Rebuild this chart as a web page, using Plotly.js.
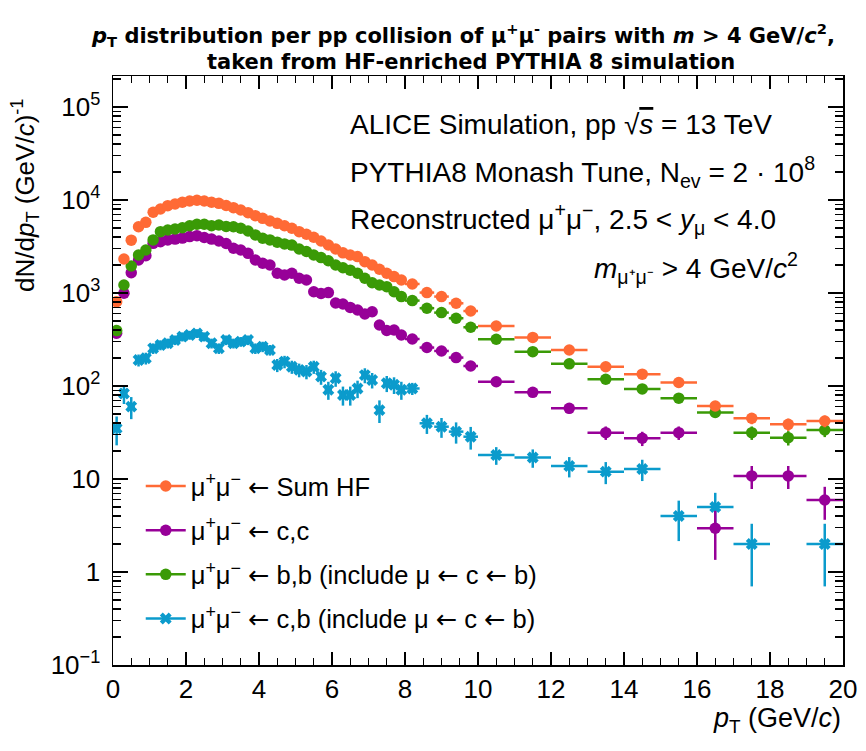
<!DOCTYPE html>
<html>
<head>
<meta charset="utf-8">
<script src="https://cdn.plot.ly/plotly-3.0.1.min.js"></script>
<style>
  html, body { margin: 0; padding: 0; background: #fff; }
  #plot { width: 866px; height: 751px; }
</style>
</head>
<body>
<div id="plot"></div>
<script>
// Bin centres (GeV/c): 0.2 GeV bins up to 8, 0.4 GeV bins up to 10, 1 GeV bins up to 20
const ptCenters = [
  0.1, 0.3, 0.5, 0.7, 0.9, 1.1, 1.3, 1.5, 1.7, 1.9,
  2.1, 2.3, 2.5, 2.7, 2.9, 3.1, 3.3, 3.5, 3.7, 3.9,
  4.1, 4.3, 4.5, 4.7, 4.9, 5.1, 5.3, 5.5, 5.7, 5.9,
  6.1, 6.3, 6.5, 6.7, 6.9, 7.1, 7.3, 7.5, 7.7, 7.9,
  8.2, 8.6, 9.0, 9.4, 9.8,
  10.5, 11.5, 12.5, 13.5, 14.5, 15.5, 16.5, 17.5, 18.5, 19.5
];
const ptHalfWidth = [
  0.1, 0.1, 0.1, 0.1, 0.1, 0.1, 0.1, 0.1, 0.1, 0.1,
  0.1, 0.1, 0.1, 0.1, 0.1, 0.1, 0.1, 0.1, 0.1, 0.1,
  0.1, 0.1, 0.1, 0.1, 0.1, 0.1, 0.1, 0.1, 0.1, 0.1,
  0.1, 0.1, 0.1, 0.1, 0.1, 0.1, 0.1, 0.1, 0.1, 0.1,
  0.2, 0.2, 0.2, 0.2, 0.2,
  0.5, 0.5, 0.5, 0.5, 0.5, 0.5, 0.5, 0.5, 0.5, 0.5
];

// dN/dpT per pp collision
const sumHF = [
  805, 2320, 3700, 5160, 5750, 7380, 8000, 8690, 9060, 9440,
  9750, 9920, 9750, 9440, 9200, 8720, 8270, 7800, 7300, 6780,
  6350, 5940, 5610, 5290, 4960, 4560, 4280, 3970, 3620, 3280,
  2970, 2700, 2560, 2460, 2170, 2000, 1800, 1630, 1500, 1380,
  1250, 1010, 915, 775, 640,
  442, 333, 244, 161, 134, 109, 61, 45, 38.7, 42
];
const sumHFErr = [
  59, 100, 126, 149, 157, 178, 185, 193, 197, 201,
  204, 206, 204, 201, 199, 193, 188, 183, 177, 170,
  165, 160, 155, 151, 146, 140, 135, 130, 125, 119,
  113, 108, 105, 103, 96, 93, 88, 84, 80, 77,
  52, 47, 44, 41, 37,
  19, 17, 14, 12, 11, 9.7, 7.2, 6.2, 5.8, 6.0
];

const ccbar = [
  369, 993, 1650, 2260, 2520, 3420, 3560, 3720, 3800, 3890,
  4040, 4130, 3950, 3800, 3620, 3400, 3030, 2900, 2670, 2260,
  2090, 2000, 1630, 1560, 1630, 1440, 1380, 1030, 990, 1010,
  780, 762, 699, 657, 594, 629, 453, 395, 400, 353,
  320, 259, 238, 202, 164,
  111, 85.5, 57.5, 31.5, 27.4, 31.5, 2.95, 10.8, 10.8, 5.94
];
const ccbarErr = [
  40, 65, 84, 98, 104, 121, 124, 126, 128, 129,
  132, 133, 130, 128, 125, 121, 114, 111, 107, 98,
  95, 93, 84, 82, 84, 79, 77, 66, 65, 66,
  58, 57, 55, 53, 50, 52, 44, 41, 41, 39,
  26, 24, 23, 21, 19,
  9.8, 8.6, 7.0, 5.2, 4.8, 5.2, 1.6, 3.0, 3.0, 2.3
];

const bbbar = [
  394, 1220, 1950, 2560, 2900, 3720, 4560, 4750, 4870, 5030,
  5290, 5480, 5480, 5290, 5380, 5200, 5160, 4960, 4640, 4210,
  3880, 3720, 3520, 3370, 3270, 2970, 2790, 2560, 2400, 2220,
  2000, 1870, 1760, 1630, 1440, 1290, 1220, 1170, 1030, 915,
  828, 686, 615, 535, 428,
  318, 234, 173, 118, 93, 74, 52, 31.5, 27.8, 33.6
];
const bbbarErr = [
  41, 72, 91, 105, 111, 126, 140, 143, 144, 147,
  151, 153, 153, 151, 152, 149, 149, 146, 141, 134,
  129, 126, 123, 120, 118, 113, 109, 105, 101, 98,
  93, 90, 87, 84, 79, 74, 72, 71, 66, 63,
  42, 38, 36, 34, 30,
  17, 14, 12, 10, 8.9, 8.0, 6.7, 5.2, 4.9, 5.4
];

const cbMixed = [
  35, 83, 60, 190, 199, 254, 276, 288, 312, 339,
  353, 368, 339, 288, 254, 312, 288, 300, 312, 254,
  265, 244, 168, 183, 161, 149, 143, 161, 126, 91,
  121, 80, 80, 94, 131, 116, 55, 107, 103, 91,
  94, 39.7, 36.5, 32.3, 28.5,
  18.1, 17, 13.8, 12, 12.8, 4, 5, 2, null, 2
];
const cbMixedErr = [
  12, 19, 16, 28, 29, 33, 34, 35, 37, 38,
  39, 40, 38, 35, 33, 37, 35, 36, 37, 33,
  34, 32, 27, 28, 26, 25, 25, 26, 23, 20,
  23, 18.5, 18.5, 20, 24, 22, 15, 21, 21, 20,
  14, 9.2, 8.8, 8.3, 7.8,
  3.9, 3.8, 3.4, 3.2, 3.3, 1.85, 2.1, 1.3, 0, 1.3
];

const ARROW = '<span style="font-family:DejaVu Sans">←</span>';
const MUMU = 'μ<sup>+</sup>μ<sup>−</sup>';
const seriesNames = [
  MUMU + ' ' + ARROW + ' Sum HF',
  MUMU + ' ' + ARROW + ' c,c',
  MUMU + ' ' + ARROW + ' b,b (include μ ' + ARROW + ' c ' + ARROW + ' b)',
  MUMU + ' ' + ARROW + ' c,b (include μ ' + ARROW + ' c ' + ARROW + ' b)'
];
const seriesColors = ['#ff6a35', '#970098', '#3a9a06', '#0b9bcc'];
const seriesSymbols = ['circle', 'circle', 'circle', 'x'];
const seriesValues = [sumHF, ccbar, bbbar, cbMixed];
const seriesErrors = [sumHFErr, ccbarErr, bbbarErr, cbMixedErr];

// y-axis tick labels
const yTickVals = [0.1, 1, 10, 100, 1000, 10000, 100000];
const yTickText = ['10<sup>−1</sup>', '1', '10', '10<sup>2</sup>', '10<sup>3</sup>', '10<sup>4</sup>', '10<sup>5</sup>'];
const yMinorVals = [];
for (let e = -1; e <= 5; e++) {
  for (let m = 2; m <= 9; m++) yMinorVals.push(m * Math.pow(10, e));
}

function markerFor(i) {
  return {
    color: seriesColors[i],
    symbol: seriesSymbols[i],
    size: seriesSymbols[i] === 'x' ? 10.5 : 11.5,
    line: { width: 0 }
  };
}

const traces = [];
// draw order: cyan first so the circles sit on top
[3, 1, 2, 0].forEach(function (i) {
  traces.push({
    type: 'scatter',
    mode: 'markers',
    x: ptCenters,
    y: seriesValues[i],
    showlegend: false,
    marker: markerFor(i),
    error_x: { type: 'data', array: ptHalfWidth, color: seriesColors[i], thickness: 2.5, width: 0 },
    error_y: { type: 'data', array: seriesErrors[i], color: seriesColors[i], thickness: 2.5, width: 0 },
    hoverinfo: 'x+y'
  });
});
// legend keys (line + marker)
[0, 1, 2, 3].forEach(function (i) {
  traces.push({
    type: 'scatter',
    mode: 'lines+markers',
    x: [null],
    y: [null],
    name: seriesNames[i],
    legendgroup: 'g' + i,
    line: { color: seriesColors[i], width: 2.5 },
    marker: markerFor(i)
  });
});

const HELV = 'Liberation Sans, Arial, sans-serif';
const textFont = { family: HELV, size: 28, color: '#000' };
const titleFont = { family: 'DejaVu Sans, sans-serif', size: 21, color: '#000', weight: 600 };

const layout = {
  width: 866,
  height: 751,
  margin: { l: 113, r: 23, t: 76, b: 86 },
  paper_bgcolor: '#fff',
  plot_bgcolor: '#fff',
  font: { family: HELV, size: 24, color: '#000' },
  xaxis: {
    range: [0, 20],
    dtick: 2,
    tick0: 0,
    ticks: 'inside',
    ticklen: 13,
    tickwidth: 1.2,
    tickcolor: '#000',
    showgrid: false,
    zeroline: false,
    showline: true,
    linecolor: '#000',
    linewidth: 1.5,
    mirror: 'allticks',
    tickfont: { family: HELV, size: 26, color: '#000' },
    minor: { dtick: 0.5, tick0: 0, ticks: 'inside', ticklen: 7, tickwidth: 1.2, tickcolor: '#000', showgrid: false }
  },
  yaxis: {
    type: 'log',
    range: [-1, 5.333],
    tickvals: yTickVals,
    ticktext: yTickText,
    ticks: 'inside',
    ticklen: 15,
    tickwidth: 1.2,
    tickcolor: '#000',
    showgrid: false,
    zeroline: false,
    showline: true,
    linecolor: '#000',
    linewidth: 1.5,
    mirror: 'allticks',
    ticklabelstandoff: 6,
    tickfont: { family: HELV, size: 26, color: '#000' },
    minor: { tickvals: yMinorVals, ticks: 'inside', ticklen: 8, tickwidth: 1.2, tickcolor: '#000', showgrid: false }
  },
  showlegend: true,
  legend: {
    x: 0.038,
    y: 0.343,
    xanchor: 'left',
    yanchor: 'top',
    bgcolor: 'rgba(0,0,0,0)',
    borderwidth: 0,
    font: { family: HELV, size: 25.5, color: '#000' },
    traceorder: 'grouped',
    tracegroupgap: 8,
    itemwidth: 40
  },
  annotations: [
    {
      text: '<i>p</i><sub>T</sub> distribution per pp collision of μ<sup>+</sup>μ<sup>-</sup> pairs with <i>m</i> > 4 GeV/<i>c</i><sup>2</sup>,',
      xref: 'paper', yref: 'paper', x: 0.48, y: 1.0696, xanchor: 'center', yanchor: 'middle',
      showarrow: false, font: titleFont
    },
    {
      text: 'taken from HF-enriched PYTHIA 8 simulation',
      xref: 'paper', yref: 'paper', x: 0.49, y: 1.0238, xanchor: 'center', yanchor: 'middle',
      showarrow: false, font: titleFont
    },
    {
      text: 'ALICE Simulation, pp √<span style="text-decoration:overline"><i>s</i></span> = 13 TeV',
      xref: 'paper', yref: 'paper', x: 0.322, y: 0.917, xanchor: 'left', yanchor: 'middle',
      showarrow: false, font: textFont
    },
    {
      text: 'PYTHIA8 Monash Tune, N<sub>ev</sub> = 2 · 10<sup>8</sup>',
      xref: 'paper', yref: 'paper', x: 0.322, y: 0.837, xanchor: 'left', yanchor: 'middle',
      showarrow: false, font: textFont
    },
    {
      text: 'Reconstructed μ<sup>+</sup>μ<sup>−</sup>, 2.5 < <i>y</i><sub>μ</sub> < 4.0',
      xref: 'paper', yref: 'paper', x: 0.322, y: 0.757, xanchor: 'left', yanchor: 'middle',
      showarrow: false, font: textFont
    },
    {
      text: '<i>m</i><sub>μ⁺μ⁻</sub> > 4 GeV/<i>c</i><sup>2</sup>',
      xref: 'paper', yref: 'paper', x: 0.941, y: 0.674, xanchor: 'right', yanchor: 'middle',
      showarrow: false, font: textFont
    },
    {
      text: 'dN/d<i>p</i><sub>T</sub> (GeV/<i>c</i>)<sup>-1</sup>',
      xref: 'paper', yref: 'paper', x: -0.1205, y: 0.798, xanchor: 'center', yanchor: 'middle',
      textangle: -90, showarrow: false,
      font: { family: HELV, size: 26, color: '#000' }
    },
    {
      text: '<i>p</i><sub>T</sub> (GeV/<i>c</i>)',
      xref: 'paper', yref: 'paper', x: 1.0, y: -0.093, xanchor: 'right', yanchor: 'middle',
      showarrow: false,
      font: { family: HELV, size: 27, color: '#000' }
    }
  ]
};

Plotly.newPlot('plot', traces, layout, { staticPlot: true, displayModeBar: false });
</script>
</body>
</html>
